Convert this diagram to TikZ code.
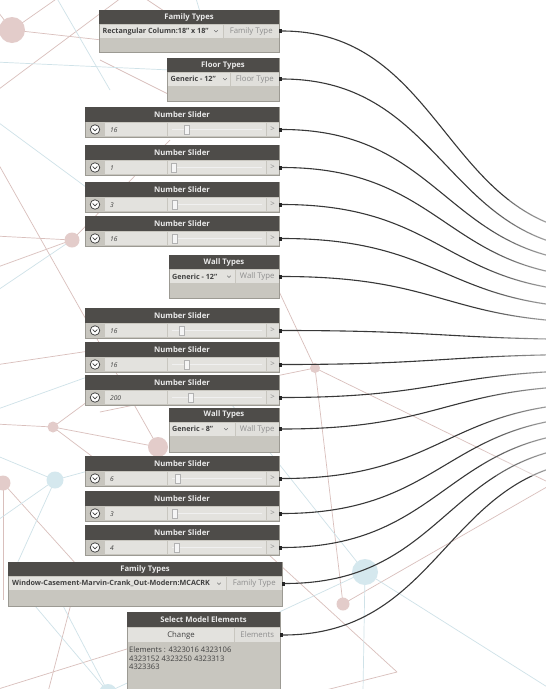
\documentclass[tikz,border=0pt]{standalone}
\usepackage{fontspec}
\setmainfont{Open Sans}
\usetikzlibrary{fit}
\definecolor{hd}{HTML}{4E4C49}
\definecolor{bd}{HTML}{C8C6BF}
\definecolor{bdr}{HTML}{9C9A93}
\definecolor{fldc}{HTML}{E3E2DE}
\definecolor{prt}{HTML}{E0DFDB}
\definecolor{ptx}{HTML}{8E8E8E}
\definecolor{dtx}{HTML}{404040}
\definecolor{wirec}{HTML}{383838}
\definecolor{bgp}{HTML}{D9BFBC}
\definecolor{bgb}{HTML}{CFE2E8}
\definecolor{cp}{HTML}{E3CCCA}
\definecolor{cb}{HTML}{D5E8EE}
\newcommand\fhead{\fontsize{7.7}{8}\selectfont\bfseries}
\newcommand\fport{\fontsize{7.8}{8}\selectfont}
\newcommand\fdrop{\fontsize{7.2}{8}\selectfont\bfseries}
\newcommand\fval{\fontsize{6.6}{7}\selectfont\itshape}
\newcommand\fsme{\fontsize{7.6}{8.7}\selectfont}
\newcommand\dynslider[4]{%
 \node[nbody, fit={(85,#2) (279,#2+30)}] (#1) {};
 \node[nhead, fit={(85,#2) (279,#2+15)}] (#1h) {};
 \node[htext] (#1l) at (#1h.center) {Number Slider};
 \node[sicon] (#1i) at (95,#2+22.5) {};
 \draw[chevi] (92.6,#2+21.6) -- (95,#2+23.8) -- (97.4,#2+21.6);
 \node[fldbox, fit={(104.5,#2+16) (167,#2+29)}] (#1v) {};
 \node[valtxt] (#1n) at (110,#2+22.7) {#3};
 \node[fldbox, fit={(168,#2+16) (265.5,#2+29)}] (#1s) {};
 \draw[track] (172,#2+22.5) -- (262,#2+22.5);
 \node[thumb] (#1t) at (#4,#2+22.5) {};
 \node[prtbox, fit={(266.5,#2+16) (278.5,#2+29)}] (#1p) {};
 \node[ptext] (#1g) at (#1p.center) {>};
 \node[portpin] (#1o) at (280.6,#2+22.5) {};
}
\newcommand\ddchev[2]{\draw[chevd] (#1-1.8,#2-0.8) -- (#1,#2+1) -- (#1+1.8,#2-0.8);}
\begin{document}
\begin{tikzpicture}[x=1pt,y=-1pt,
 nbody/.style={draw=bdr, fill=bd, line width=0.5pt, inner sep=0pt},
 nhead/.style={fill=hd, inner sep=0pt},
 htext/.style={inner sep=0pt, text=white!92!black, font=\fhead},
 fldbox/.style={fill=fldc, inner sep=0pt},
 prtbox/.style={fill=prt, inner sep=0pt},
 ptext/.style={inner sep=0pt, text=ptx, font=\fport},
 ddtxt/.style={inner sep=0pt, anchor=west, text=dtx, font=\fdrop},
 valtxt/.style={inner sep=0pt, anchor=west, text=dtx, font=\fval},
 portpin/.style={fill=black!85, minimum width=2.5pt, minimum height=4pt, inner sep=0pt},
 wire/.style={draw=wirec, line width=1.1pt},
 sicon/.style={circle, fill=white, draw=black!72, line width=0.8pt, minimum size=9.5pt, inner sep=0pt},
 chevi/.style={draw=black!75, line width=0.7pt},
 chevd/.style={draw=black!55, line width=0.5pt},
 thumb/.style={fill=white!96!black, draw=black!30, line width=0.4pt, minimum width=5pt, minimum height=9pt, inner sep=0pt},
 track/.style={draw=white!94!black, line width=1.6pt},
 bgl/.style={line width=0.7pt},
 pinkl/.style={draw=bgp},
 bluel/.style={draw=bgb}]
\useasboundingbox (0,0) rectangle (546,689);
\fill[white] (0,0) rectangle (546,689);
\begin{scope}
\clip (0,0) rectangle (546,689);
% ---------- background network ----------
\begin{scope}[bgl]
\draw[pinkl] (12,30) -- (62,-5);
\draw[pinkl] (12,30) -- (-5,8);
\draw[pinkl] (12,30) -- (120,42);
\draw[pinkl] (-5,92) -- (125,-5);
\draw[pinkl] (-5,158) -- (158,447);
\draw[pinkl] (72,240) -- (-5,236);
\draw[pinkl] (72,240) -- (-5,268);
\draw[pinkl] (72,240) -- (170,140);
\draw[pinkl] (-5,365) -- (130,345);
\draw[pinkl] (53,427) -- (-5,424);
\draw[pinkl] (53,427) -- (158,447);
\draw[pinkl] (53,427) -- (110,385);
\draw[pinkl] (53,427) -- (130,485);
\draw[pinkl] (3,483) -- (3,600);
\draw[pinkl] (3,483) -- (95,585);
\draw[pinkl] (100,412) -- (315,368);
\draw[pinkl] (276,285) -- (315,368);
\draw[pinkl] (315,368) -- (343,604);
\draw[pinkl] (315,368) -- (552,484);
\draw[pinkl] (343,604) -- (552,484);
\draw[pinkl] (268,554) -- (397,672);
\draw[pinkl] (397,672) -- (318,692);
\draw[pinkl] (72,600) -- (48,692);
\draw[pinkl] (130,648) -- (-5,690);
\draw[pinkl] (140,-5) -- (170,15);
\draw[pinkl] (100,60) -- (170,95);
\draw[bluel] (-5,62) -- (170,70);
\draw[bluel] (55,-5) -- (110,90);
\draw[bluel] (-5,120) -- (90,190);
\draw[bluel] (72,240) -- (-5,292);
\draw[bluel] (-5,410) -- (90,376);
\draw[bluel] (55,480) -- (-5,455);
\draw[bluel] (55,480) -- (-5,522);
\draw[bluel] (55,480) -- (12,575);
\draw[bluel] (55,480) -- (110,465);
\draw[bluel] (232,405) -- (365,572);
\draw[bluel] (365,572) -- (552,690);
\draw[bluel] (365,572) -- (363,692);
\draw[bluel] (365,572) -- (108,692);
\draw[bluel] (108,692) -- (30,600);
\draw[bluel] (108,692) -- (60,600);
\draw[bluel] (195,-5) -- (200,12);
\fill[cp] (12,30) circle (13);
\fill[cp] (72,240) circle (7.5);
\fill[cp] (53,427) circle (5.5);
\fill[cp] (3,483) circle (7.5);
\fill[cp] (158,447) circle (10);
\fill[cp] (315,368) circle (5);
\fill[cp] (343,604) circle (6.5);
\fill[cp] (551,484) circle (5);
\fill[cb] (55,480) circle (8.5);
\fill[cb] (365,572) circle (13);
\fill[cb] (108,693) circle (9);
\end{scope}
% ---------- Family Types (column) ----------
\node[nbody, fit={(99,10) (279,52)}] (ft1) {};
\node[nhead, fit={(99,10) (279,24)}] (ft1h) {};
\node[htext] (ft1l) at (ft1h.center) {Family Types};
\node[fldbox, fit={(100,25) (223,37.5)}] (ft1d) {};
\node[ddtxt] (ft1t) at (102.5,31.2) {Rectangular Column:18" x 18"};
\ddchev{216}{31}
\node[prtbox, fit={(224,25) (278.5,37.5)}] (ft1p) {};
\node[ptext] (ft1q) at (ft1p.center) {Family Type};
\node[portpin] (ft1o) at (280.6,31) {};
% ---------- Floor Types ----------
\node[nbody, fit={(167,58) (279,101)}] (flt) {};
\node[nhead, fit={(167,58) (279,72)}] (flth) {};
\node[htext] (fltl) at (flth.center) {Floor Types};
\node[fldbox, fit={(168,73) (230,85.5)}] (fltd) {};
\node[ddtxt] (fltt) at (170.5,79.2) {Generic - 12"};
\ddchev{225}{79}
\node[prtbox, fit={(231,73) (278.5,85.5)}] (fltp) {};
\node[ptext] (fltq) at (fltp.center) {Floor Type};
\node[portpin] (flto) at (280.6,79) {};
% ---------- sliders 1-4 ----------
\dynslider{sa}{107}{16}{187}
\dynslider{sb}{145}{1}{174}
\dynslider{sc}{182}{3}{175}
\dynslider{sd}{216}{16}{175}
% ---------- Wall Types 1 ----------
\node[nbody, fit={(169,255) (279,298)}] (wt1) {};
\node[nhead, fit={(169,255) (279,269)}] (wt1h) {};
\node[htext] (wt1l) at (wt1h.center) {Wall Types};
\node[fldbox, fit={(170,270) (235,283)}] (wt1d) {};
\node[ddtxt] (wt1t) at (172,276.7) {Generic - 12"};
\ddchev{229}{276.5}
\node[prtbox, fit={(236,270) (278.5,283)}] (wt1p) {};
\node[ptext] (wt1q) at (wt1p.center) {Wall Type};
\node[portpin] (wt1o) at (280.6,276.5) {};
% ---------- sliders 5-7 ----------
\dynslider{se}{308}{16}{182}
\dynslider{sf}{342}{16}{187}
\dynslider{sg}{375}{200}{191}
% ---------- Wall Types 2 ----------
\node[nbody, fit={(169,408) (279,452)}] (wt2) {};
\node[nhead, fit={(169,408) (279,421.5)}] (wt2h) {};
\node[htext] (wt2l) at (wt2h.center) {Wall Types};
\node[fldbox, fit={(170,422.5) (235,436)}] (wt2d) {};
\node[ddtxt] (wt2t) at (172,429.2) {Generic - 8"};
\ddchev{226}{429}
\node[prtbox, fit={(236,422.5) (278.5,436)}] (wt2p) {};
\node[ptext] (wt2q) at (wt2p.center) {Wall Type};
\node[portpin] (wt2o) at (280.6,429) {};
% ---------- sliders 8-10 ----------
\dynslider{sh}{456}{6}{178}
\dynslider{si}{491}{3}{175}
\dynslider{sj}{525}{4}{177}
% ---------- Family Types (window) ----------
\node[nbody, fit={(8,562) (282,606)}] (ft2) {};
\node[nhead, fit={(8,562) (282,576)}] (ft2h) {};
\node[htext] (ft2l) at (ft2h.center) {Family Types};
\node[fldbox, fit={(9,577) (226,590)}] (ft2d) {};
\node[ddtxt] (ft2t) at (12,583.7) {Window-Casement-Marvin-Crank\_Out-Modern:MCACRK};
\ddchev{219}{583.5}
\node[prtbox, fit={(227,577) (281.5,590)}] (ft2p) {};
\node[ptext] (ft2q) at (ft2p.center) {Family Type};
\node[portpin] (ft2o) at (283.6,583.5) {};
% ---------- Select Model Elements ----------
\node[nbody, fit={(127,612) (280,700)}] (sme) {};
\node[nhead, fit={(127,612) (280,627)}] (smeh) {};
\node[htext] (smel) at (smeh.center) {Select Model Elements};
\node[fldbox, fit={(128,628) (234,642)}] (smec) {};
\node[inner sep=0pt, text=dtx, font=\fport] (smecl) at (smec.center) {Change};
\node[prtbox, fit={(235,628) (279.5,642)}] (smep) {};
\node[ptext] (smeq) at (smep.center) {Elements};
\node[anchor=north west, inner sep=0pt, align=left, text=dtx, font=\fsme] (smet) at (129,646.5) {Elements : 4323016 4323106\\4323152 4323250 4323313\\4323363};
\node[portpin] (smeo) at (281.6,635) {};
% ---------- wire targets (off to the right) ----------
\coordinate (e1) at (610,234.4);
\coordinate (e2) at (610,250.5);
\coordinate (e3) at (610,263.1);
\coordinate (e4) at (610,277.7);
\coordinate (e5) at (610,292.3);
\coordinate (e6) at (610,308.2);
\coordinate (e7) at (610,322.8);
\coordinate (e8) at (610,339.5);
\coordinate (e9) at (610,354.3);
\coordinate (e10) at (610,370.3);
\coordinate (e11) at (610,385.3);
\coordinate (e12) at (610,402.4);
\coordinate (e13) at (610,416.1);
\coordinate (e14) at (610,430.9);
\coordinate (e15) at (610,444.5);
\coordinate (e16) at (610,459.3);
\foreach \s/\t in {ft1o/e1, flto/e2, sao/e3, sbo/e4, sco/e5, sdo/e6, wt1o/e7, seo/e8, sfo/e9, sgo/e10, wt2o/e11, sho/e12, sio/e13, sjo/e14, ft2o/e15, smeo/e16}
  \draw[wire] (\s.east) .. controls +(164,0) and +(-165,0) .. (\t);
% fade of wire ends
\foreach \i in {0,...,11}
  \fill[white, fill opacity=0.06] (482+\i*5.5,200) rectangle (547,476);
\end{scope}
\end{tikzpicture}
\end{document}
